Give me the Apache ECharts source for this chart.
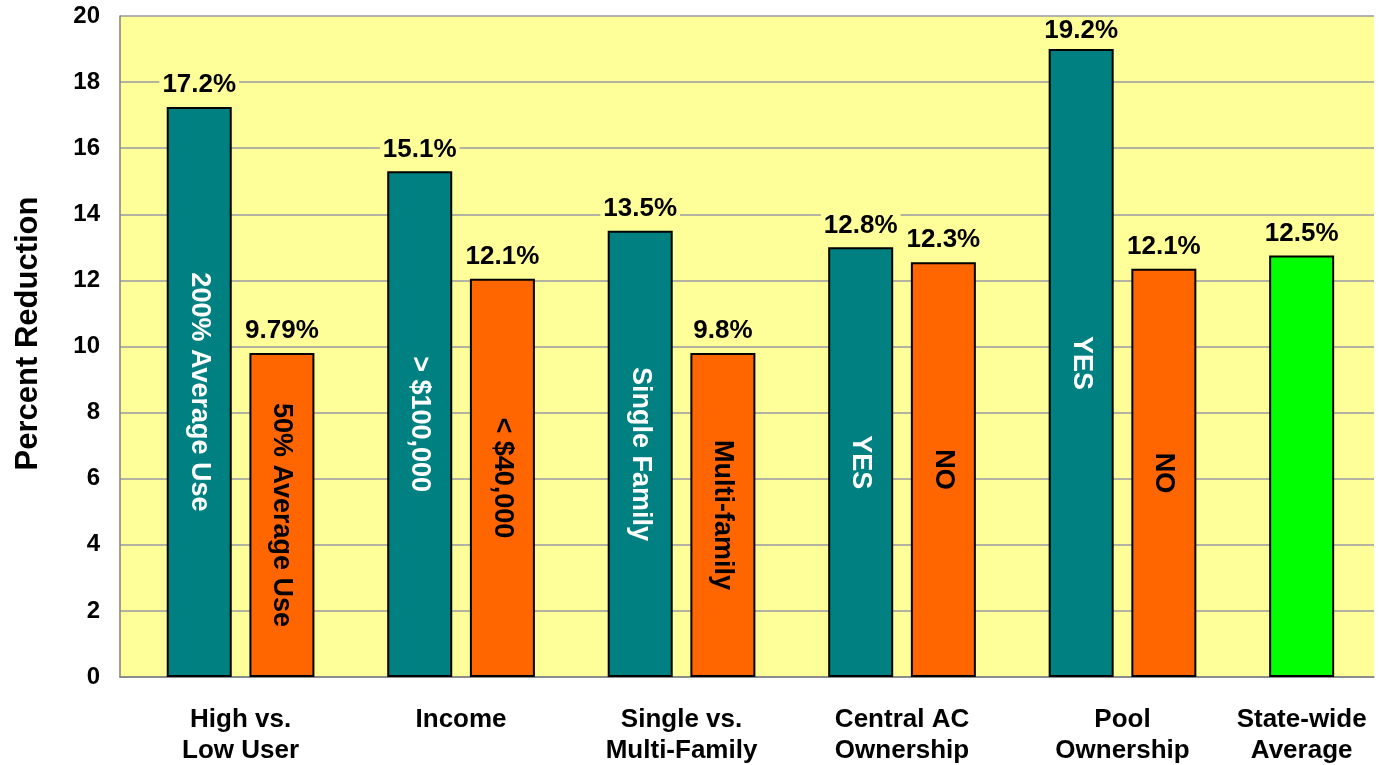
<!DOCTYPE html>
<html>
<head>
<meta charset="utf-8">
<script src="https://cdn.jsdelivr.net/npm/echarts@6/dist/echarts.min.js"></script>
<style>
html,body{margin:0;padding:0;background:#fff;}
#chart{width:1379px;height:765px;}
</style>
</head>
<body>
<div id="chart"></div>
<script>
// ---- data ----
const groups = ['High vs.\nLow User', 'Income', 'Single vs.\nMulti-Family', 'Central AC\nOwnership', 'Pool\nOwnership', 'State-wide\nAverage'];
const tealValues   = [17.25, 15.3, 13.5, 13.0, 19.0, null];
const orangeValues = [9.8, 12.05, 9.8, 12.55, 12.35, null];
const greenValues  = [null, null, null, null, null, 12.75];
const tealLabels   = ['17.2%', '15.1%', '13.5%', '12.8%', '19.2%', null];
const orangeLabels = ['9.79%', '12.1%', '9.8%', '12.3%', '12.1%', null];
const greenLabels  = [null, null, null, null, null, '12.5%'];
const tealInner    = ['200% Average Use', '> $100,000', 'Single Family', 'YES', 'YES', null];
const orangeInner  = ['50% Average Use', '< $40,000', 'Multi-family', 'NO', 'NO', null];
const yTickLabels  = ['0','2','4','6','8','10','12','14','16','18','20'];

// ---- layout (slots on a fine category axis) ----
const N = 182, LEAD = 11, PAIR = 12, GROUPSTEP = 32;
const GRID_TOP = 16;
const cats = new Array(N).fill('');
function emptyArr(){ return new Array(N).fill('-'); }
const tealData = emptyArr(), orangeData = emptyArr(), greenData = emptyArr();
const tealTop = {}, orangeTop = {}, greenTop = {}, tealIn = {}, orangeIn = {};
groups.forEach((g, i) => {
  const base = LEAD + GROUPSTEP * i;
  if (greenValues[i] != null) {
    cats[base] = g;
    greenData[base] = greenValues[i];
    greenTop[base] = greenLabels[i];
  } else {
    cats[base + PAIR / 2] = g;
    tealData[base] = tealValues[i];
    tealTop[base] = tealLabels[i];
    tealIn[base] = tealInner[i];
    orangeData[base + PAIR] = orangeValues[i];
    orangeTop[base + PAIR] = orangeLabels[i];
    orangeIn[base + PAIR] = orangeInner[i];
  }
});

const FONT = '"Liberation Sans", Arial, sans-serif';
const topLabel = (map) => ({
  show: true, position: 'top', distance: 9,
  formatter: p => map[p.dataIndex] || '',
  fontFamily: FONT, fontWeight: 'bold', fontSize: 26, color: '#000',
  backgroundColor: '#FFFF99', padding: [1, 3, 0, 3]
});
// keep value labels inside the plot area (clamped under the top border)
const clampTop = (p) => {
  const r = p.labelRect;
  if (r && r.y < GRID_TOP + 1) {
    return { x: r.x + r.width / 2, y: GRID_TOP + 1, align: 'center', verticalAlign: 'top' };
  }
  return {};
};
const innerLabel = (map, col) => ({
  show: true, position: 'inside', rotate: -90,
  formatter: p => map[p.dataIndex] || '',
  fontFamily: FONT, fontWeight: 'bold', fontSize: 27, color: col
});
const barStyle = (c) => ({ color: c, borderColor: '#000', borderWidth: 2 });

const chart = echarts.init(document.getElementById('chart'), null, { renderer: 'canvas' });
chart.setOption({
  animation: false,
  backgroundColor: '#ffffff',
  grid: { left: 120, top: GRID_TOP, right: 5, bottom: 88, containLabel: false, outerBoundsMode: 'none',
          show: true, backgroundColor: '#FFFF99', borderWidth: 0 },
  xAxis: {
    type: 'category', data: cats, boundaryGap: true,
    axisLine: { show: true, lineStyle: { color: '#808080', width: 1.5 } },
    axisTick: { show: false },
    axisLabel: { interval: 0, margin: 27, fontFamily: FONT, fontWeight: 'bold', fontSize: 26, lineHeight: 31, color: '#000', align: 'center' },
    splitLine: { show: false }
  },
  yAxis: {
    type: 'value', min: 0, max: 20, interval: 2,
    name: 'Percent Reduction', nameLocation: 'middle', nameRotate: 90, nameGap: 76,
    nameTextStyle: { fontFamily: FONT, fontWeight: 'bold', fontSize: 31, color: '#000', padding: [0, 0, 0, 26] },
    axisLine: { show: true, lineStyle: { color: '#808080', width: 1.5 } },
    axisTick: { show: false },
    axisLabel: { margin: 20, fontFamily: FONT, fontWeight: 'bold', fontSize: 24, color: '#000',
      formatter: v => yTickLabels[Math.round(v / 2)] },
    splitLine: { show: true, lineStyle: { color: '#9a9aa6', width: 1.5 } }
  },
  series: [
    { type: 'bar', data: tealData, barWidth: 65, barGap: '-100%', itemStyle: barStyle('#008080'), label: topLabel(tealTop), labelLayout: clampTop, z: 2 },
    { type: 'bar', data: orangeData, barWidth: 65, barGap: '-100%', itemStyle: barStyle('#FF6600'), label: topLabel(orangeTop), z: 2 },
    { type: 'bar', data: greenData, barWidth: 65, barGap: '-100%', itemStyle: barStyle('#00FF00'), label: topLabel(greenTop), z: 2 },
    { type: 'bar', data: tealData, barWidth: 65, barGap: '-100%', itemStyle: { color: 'rgba(0,0,0,0)' }, label: innerLabel(tealIn, '#ffffff'), z: 3, silent: true },
    { type: 'bar', data: orangeData, barWidth: 65, barGap: '-100%', itemStyle: { color: 'rgba(0,0,0,0)' }, label: innerLabel(orangeIn, '#000000'), z: 3, silent: true }
  ]
});
</script>
</body>
</html>
